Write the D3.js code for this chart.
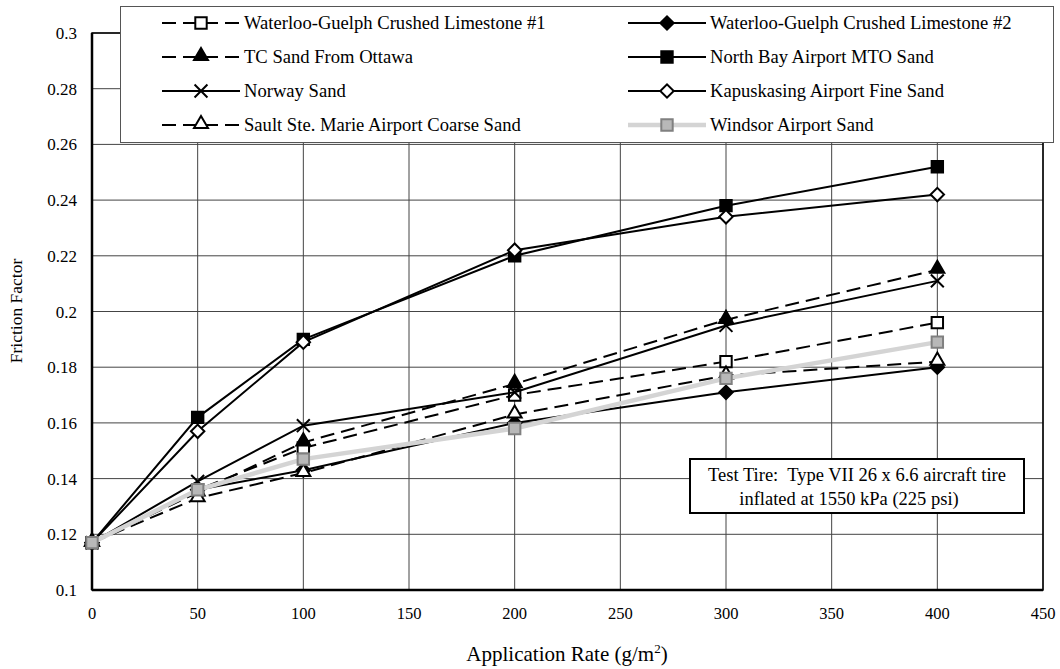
<!DOCTYPE html>
<html lang="en">
<head>
<script src="https://d3js.org/d3.v7.min.js"></script>
<style>
  body { margin: 0; background: #fff; }
  text { font-family: "Liberation Serif", "Times New Roman", serif; fill: #000; }
  .grid line { stroke: #444; stroke-width: 1px; }
</style>
</head>
<body>
<svg id="chart" width="1060" height="669"></svg>
<script>
// application rates (g/m2)
const rates = [0, 50, 100, 200, 300, 400];

const wgLime1   = [0.117, 0.136, 0.151, 0.170, 0.182, 0.196];
const wgLime2   = [0.117, 0.136, 0.143, 0.160, 0.171, 0.180];
const tcOttawa  = [0.117, 0.135, 0.153, 0.174, 0.197, 0.215];
const northBay  = [0.117, 0.162, 0.190, 0.220, 0.238, 0.252];
const norway    = [0.117, 0.139, 0.159, 0.171, 0.195, 0.211];
const kapus     = [0.117, 0.157, 0.189, 0.222, 0.234, 0.242];
const sault     = [0.117, 0.133, 0.142, 0.163, 0.177, 0.182];
const windsor   = [0.117, 0.136, 0.147, 0.158, 0.176, 0.189];

const xTicks = [0, 50, 100, 150, 200, 250, 300, 350, 400, 450];
const yTicks = [0.1, 0.12, 0.14, 0.16, 0.18, 0.2, 0.22, 0.24, 0.26, 0.28, 0.3];

const series = [
  { name: "Waterloo-Guelph Crushed Limestone #1", values: wgLime1, dash: true, marker: "square", fill: "#fff" },
  { name: "Waterloo-Guelph Crushed Limestone #2", values: wgLime2, dash: false, marker: "diamond", fill: "#000" },
  { name: "TC Sand From Ottawa", values: tcOttawa, dash: true, marker: "triangle", fill: "#000" },
  { name: "North Bay Airport MTO Sand", values: northBay, dash: false, marker: "square", fill: "#000" },
  { name: "Norway Sand", values: norway, dash: false, marker: "x", fill: "none" },
  { name: "Kapuskasing Airport Fine Sand", values: kapus, dash: false, marker: "diamond", fill: "#fff" },
  { name: "Sault Ste. Marie Airport Coarse Sand", values: sault, dash: true, marker: "triangle", fill: "#fff" },
  { name: "Windsor Airport Sand", values: windsor, dash: false, marker: "square", fill: "#b8b8b8", gray: true }
];

const svg = d3.select("#chart");
const margin = { left: 92, top: 33, right: 1043, bottom: 590 };

const x = d3.scaleLinear().domain([0, 450]).range([margin.left, margin.right]);
const y = d3.scaleLinear().domain([0.1, 0.3]).range([margin.bottom, margin.top]);

// gridlines
const grid = svg.append("g").attr("class", "grid");
grid.selectAll("line.h").data(yTicks).join("line")
  .attr("class", "h")
  .attr("x1", margin.left).attr("x2", margin.right)
  .attr("y1", d => y(d)).attr("y2", d => y(d));
grid.selectAll("line.v").data(xTicks).join("line")
  .attr("class", "v")
  .attr("x1", d => x(d)).attr("x2", d => x(d))
  .attr("y1", margin.top).attr("y2", margin.bottom);

// frame
svg.append("rect")
  .attr("x", margin.left).attr("y", margin.top)
  .attr("width", margin.right - margin.left).attr("height", margin.bottom - margin.top)
  .attr("fill", "none").attr("stroke", "#000").attr("stroke-width", 1.5);
svg.append("line")
  .attr("x1", margin.left).attr("x2", margin.left)
  .attr("y1", margin.top).attr("y2", margin.bottom)
  .attr("stroke", "#000").attr("stroke-width", 2.5);
svg.append("line")
  .attr("x1", margin.left).attr("x2", margin.right)
  .attr("y1", margin.bottom).attr("y2", margin.bottom)
  .attr("stroke", "#000").attr("stroke-width", 2.5);

// tick labels
svg.append("g").selectAll("text").data(yTicks).join("text")
  .attr("x", 77).attr("y", d => y(d) + 6)
  .attr("text-anchor", "end").attr("font-size", 17)
  .text(d => d3.format("")(+d.toFixed(2)));
svg.append("g").selectAll("text").data(xTicks).join("text")
  .attr("x", d => x(d)).attr("y", 619)
  .attr("text-anchor", "middle").attr("font-size", 16.5)
  .text(d => d);

// axis titles
const xt = svg.append("text").attr("x", 567).attr("y", 661)
  .attr("text-anchor", "middle").attr("font-size", 21);
xt.append("tspan").text("Application Rate (g/m");
xt.append("tspan").attr("dy", -8).attr("font-size", 13).text("2");
xt.append("tspan").attr("dy", 8).text(")");

svg.append("text")
  .attr("transform", "translate(22,311) rotate(-90)")
  .attr("text-anchor", "middle").attr("font-size", 17.5)
  .text("Friction Factor");

// markers
function markerPath(type) {
  if (type === "square") return d3.symbol(d3.symbolSquare, 130)();
  if (type === "diamond") return d3.symbol(d3.symbolSquare, 90)();
  if (type === "triangle") return d3.symbol(d3.symbolTriangle, 85)();
  if (type === "x") return d3.symbol(d3.symbolX, 110)();
}
function drawMarker(g, s, cx, cy) {
  return g.append("path")
    .attr("d", markerPath(s.marker))
    .attr("transform", `translate(${cx},${cy})` + (s.marker === "diamond" ? " rotate(45)" : "") + (s.marker === "triangle" ? " translate(0,-1)" : ""))
    .attr("fill", s.fill)
    .attr("stroke", s.gray ? "#808080" : "#000")
    .attr("stroke-width", 2);
}

const line = d3.line().x(d => x(d[0])).y(d => y(d[1]));

function styleLine(p, s) {
  if (s.gray) {
    p.attr("stroke", "#d4d4d4").attr("stroke-width", 4.5);
  } else {
    p.attr("stroke", "#000").attr("stroke-width", 2)
      .attr("stroke-dasharray", s.dash ? "14,7" : null);
  }
  return p;
}

const plot = svg.append("g");
series.forEach(s => {
  const g = plot.append("g");
  const pts = rates.map((r, i) => [r, s.values[i]]);
  styleLine(g.append("path").datum(pts).attr("d", line).attr("fill", "none"), s);
  pts.forEach(d => drawMarker(g, s, x(d[0]), y(d[1])));
});

// annotation box
const ann = svg.append("g");
ann.append("rect").attr("x", 690).attr("y", 459).attr("width", 334).attr("height", 54)
  .attr("fill", "#fff").attr("stroke", "#000").attr("stroke-width", 2);
ann.append("text").attr("x", 857).attr("y", 481).attr("text-anchor", "middle").attr("font-size", 18.5)
  .text("Test Tire:\u00a0 Type VII 26 x 6.6 aircraft tire");
ann.append("text").attr("x", 849).attr("y", 505).attr("text-anchor", "middle").attr("font-size", 18.5)
  .text("inflated at 1550 kPa (225 psi)");

// legend
const legend = svg.append("g");
legend.append("rect").attr("x", 120.5).attr("y", 6.5).attr("width", 933).attr("height", 136)
  .attr("fill", "#fff").attr("stroke", "#555").attr("stroke-width", 1);
const colX = [162, 628];
const rowY = [23, 57, 91, 125];
series.forEach((s, i) => {
  const lx = colX[i % 2], ly = rowY[Math.floor(i / 2)];
  const g = legend.append("g");
  const lw = 78;
  styleLine(g.append("line").attr("x1", lx).attr("x2", lx + lw).attr("y1", ly).attr("y2", ly), s);
  drawMarker(g, s, lx + lw / 2, ly);
  g.append("text").attr("x", lx + lw + 4).attr("y", ly + 6).attr("font-size", 18.6).text(s.name);
});
</script>
</body>
</html>
